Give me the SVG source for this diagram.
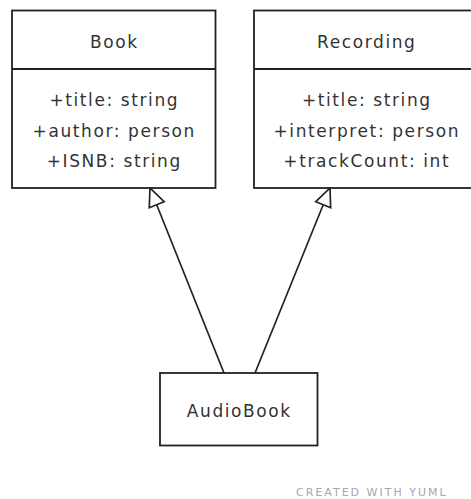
<svg xmlns="http://www.w3.org/2000/svg" width="471" height="499" viewBox="0 0 471 499">
  <style>
    .box { fill: #ffffff; stroke: #222222; stroke-width: 1.8; }
    .sep { stroke: #222222; stroke-width: 1.8; }
    .label { font-family: "DejaVu Sans", Verdana, sans-serif; font-size: 17px; fill: #333333; text-anchor: middle; letter-spacing: 1.6px; }
    .edge { fill: none; stroke: #222222; stroke-width: 1.7; }
    .credit { font-family: "DejaVu Sans", Verdana, sans-serif; font-size: 11px; fill: #9fa8b2; letter-spacing: 2px; }
  </style>
  <defs>
    <marker id="inherit" viewBox="0 0 18 16" refX="18" refY="8" markerWidth="18" markerHeight="16" markerUnits="userSpaceOnUse" orient="auto" overflow="visible">
      <path d="M0,0 L18,8 L0,16 Z" fill="#ffffff" stroke="#222222" stroke-width="1.7" stroke-linejoin="miter"/>
    </marker>
  </defs>

  <g id="connectors">
    <path class="edge" d="M224,373 L150,188" marker-end="url(#inherit)"/>
    <path class="edge" d="M255,373 L330,188" marker-end="url(#inherit)"/>
  </g>

  <g id="book">
    <rect class="box" x="12" y="10.5" width="203.5" height="177.5"/>
    <line class="sep" x1="12" y1="69" x2="215.5" y2="69"/>
    <text class="label" x="114.3" y="48">Book</text>
    <text class="label" x="114.3" y="106">+title: string</text>
    <text class="label" x="114.3" y="136.5">+author: person</text>
    <text class="label" x="114.3" y="167">+ISNB: string</text>
  </g>

  <g id="recording">
    <rect class="box" x="254" y="10.5" width="224" height="177.5"/>
    <line class="sep" x1="254" y1="69" x2="478" y2="69"/>
    <text class="label" x="366.8" y="48">Recording</text>
    <text class="label" x="366.8" y="106">+title: string</text>
    <text class="label" x="366.8" y="136.5">+interpret: person</text>
    <text class="label" x="366.8" y="167">+trackCount: int</text>
  </g>

  <g id="audiobook">
    <rect class="box" x="160" y="373" width="157.5" height="72.5"/>
    <text class="label" x="239.3" y="417">AudioBook</text>
  </g>

  <text class="credit" x="296" y="496">CREATED WITH YUML</text>
</svg>
